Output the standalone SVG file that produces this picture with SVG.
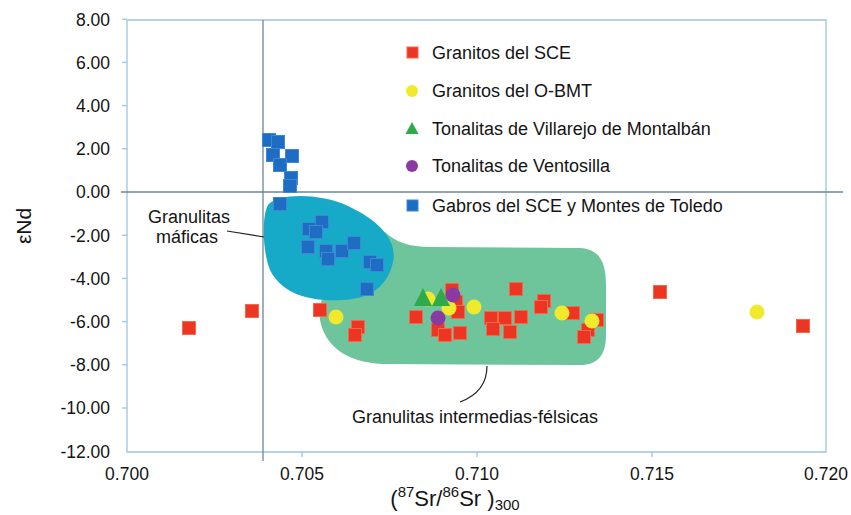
<svg xmlns="http://www.w3.org/2000/svg" width="851" height="515" viewBox="0 0 851 515">
<defs>
<style>
text{font-family:"Liberation Sans",Arial,sans-serif;fill:#141414}
.tk{font-size:17.5px}
.tx{font-size:17.5px;text-anchor:middle}
.ty{text-anchor:end}
.lg{font-size:18px}
.lb{font-size:18px}
.ax{stroke:#9cc5dd;stroke-width:1.3;fill:none}
.ref{stroke:#6a8797;stroke-width:1.3;fill:none}
.r{fill:#ec3522;stroke:#f5684a;stroke-width:1}
.b{fill:#1f6dc2;stroke:#3d88d4;stroke-width:1}
.y{fill:#f1e92c}
.p{fill:#8b3aa3}
.g{fill:#2eaa4a}
.lead{stroke:#222;stroke-width:1.2;fill:none}
</style>
<rect id="sq" x="-6.5" y="-6.5" width="13" height="13"/>
<path id="tri" d="M0,-10 L9,8 L-9,8 Z"/>
</defs>
<rect width="851" height="515" fill="#fff"/>

<g id="regions">
<path id="green-region" d="M335,285 L385,232 C395,242 410,247 430,247 L580,248 C598,249 606,260 606,285 L606,335 C606,355 598,365 580,365 L382,364 C346,362 325,346 320,320 C318,305 322,293 335,285 Z" fill="#6fc59b"/>
<path id="cyan-region" d="M268,205 C278,193 320,193 348,206 C378,220 398,240 393,262 C388,285 372,299 342,300 C306,302 281,292 270,270 C262,250 262,215 268,205 Z" fill="#16a9c8"/>
</g>

<g id="axes">
<polyline class="ax" points="127,20 826,20 826,452 127,452 127,20"/>
<g class="ax">
<line x1="122" y1="19.2" x2="127" y2="19.2"/><line x1="122" y1="62.4" x2="127" y2="62.4"/>
<line x1="122" y1="105.6" x2="127" y2="105.6"/><line x1="122" y1="148.8" x2="127" y2="148.8"/>
<line x1="122" y1="235.2" x2="127" y2="235.2"/><line x1="122" y1="278.4" x2="127" y2="278.4"/>
<line x1="122" y1="321.6" x2="127" y2="321.6"/><line x1="122" y1="364.8" x2="127" y2="364.8"/>
<line x1="122" y1="408" x2="127" y2="408"/>
<line x1="302" y1="452" x2="302" y2="457"/><line x1="477" y1="452" x2="477" y2="457"/>
<line x1="652" y1="452" x2="652" y2="457"/>
</g>
<line class="ref" x1="263" y1="20" x2="263" y2="461"/>
<line class="ref" x1="121" y1="192" x2="843" y2="192"/>
<g class="tk ty">
<text x="110" y="25.5">8.00</text><text x="110" y="68.7">6.00</text>
<text x="110" y="111.9">4.00</text><text x="110" y="155.1">2.00</text>
<text x="110" y="198.3">0.00</text><text x="110" y="241.5">-2.00</text>
<text x="110" y="284.7">-4.00</text><text x="110" y="327.9">-6.00</text>
<text x="110" y="371.1">-8.00</text><text x="110" y="414.3">-10.00</text>
<text x="110" y="457.5">-12.00</text>
</g>
<g class="tx">
<text x="127" y="480">0.700</text><text x="302" y="480">0.705</text>
<text x="477" y="480">0.710</text><text x="652" y="480">0.715</text>
<text x="826" y="480">0.720</text>
</g>
<text x="455" y="506" text-anchor="middle" style="font-size:22px">(<tspan style="font-size:15px" dy="-9">87</tspan><tspan dy="9">Sr/</tspan><tspan style="font-size:15px" dy="-9">86</tspan><tspan dy="9">Sr )</tspan><tspan style="font-size:15px" dy="4">300</tspan></text>
<text transform="translate(31,226) rotate(-90)" text-anchor="middle" style="font-size:21px">εNd</text>
</g>

<g id="connectors">
<line class="lead" x1="227" y1="231" x2="264" y2="237"/>
<path class="lead" d="M487,366 C487,385 476,396 460,402"/>
</g>

<g id="label-maficas">
<text class="lb" x="189" y="223" text-anchor="middle">Granulitas</text>
<text class="lb" x="187" y="243" text-anchor="middle">máficas</text>
</g>
<g id="label-felsicas">
<text class="lb" x="352" y="423">Granulitas intermedias-félsicas</text>
</g>

<g id="gabros">
<use href="#sq" class="b" x="269" y="140"/><use href="#sq" class="b" x="278" y="142"/>
<use href="#sq" class="b" x="273" y="155"/><use href="#sq" class="b" x="292" y="156"/>
<use href="#sq" class="b" x="280" y="165"/><use href="#sq" class="b" x="291" y="178"/>
<use href="#sq" class="b" x="290" y="186"/><use href="#sq" class="b" x="280" y="204"/>
<use href="#sq" class="b" x="322" y="222"/><use href="#sq" class="b" x="309" y="229"/>
<use href="#sq" class="b" x="316" y="232"/><use href="#sq" class="b" x="308" y="247"/>
<use href="#sq" class="b" x="326" y="251"/><use href="#sq" class="b" x="328" y="259"/>
<use href="#sq" class="b" x="342" y="251"/><use href="#sq" class="b" x="354" y="243"/>
<use href="#sq" class="b" x="370" y="262"/><use href="#sq" class="b" x="377" y="265"/>
<use href="#sq" class="b" x="367" y="289"/>
</g>

<g id="granitos-sce">
<use href="#sq" class="r" x="189" y="328"/><use href="#sq" class="r" x="252" y="311"/>
<use href="#sq" class="r" x="320" y="310"/><use href="#sq" class="r" x="358" y="327"/>
<use href="#sq" class="r" x="355" y="335"/><use href="#sq" class="r" x="416" y="317"/>
<use href="#sq" class="r" x="452" y="290"/><use href="#sq" class="r" x="456" y="302"/>
<use href="#sq" class="r" x="458" y="312"/><use href="#sq" class="r" x="438" y="330"/>
<use href="#sq" class="r" x="445" y="335"/><use href="#sq" class="r" x="460" y="333"/>
<use href="#sq" class="r" x="491" y="318"/><use href="#sq" class="r" x="505" y="318"/>
<use href="#sq" class="r" x="521" y="317"/><use href="#sq" class="r" x="493" y="329"/>
<use href="#sq" class="r" x="510" y="332"/><use href="#sq" class="r" x="516" y="289"/>
<use href="#sq" class="r" x="544" y="301"/><use href="#sq" class="r" x="541" y="307"/>
<use href="#sq" class="r" x="573" y="313"/><use href="#sq" class="r" x="597" y="320"/>
<use href="#sq" class="r" x="588" y="330"/><use href="#sq" class="r" x="584" y="337"/>
<use href="#sq" class="r" x="660" y="292"/><use href="#sq" class="r" x="803" y="326"/>
</g>

<g id="granitos-obmt">
<circle class="y" cx="336" cy="317" r="7.5"/><circle class="y" cx="428" cy="299" r="7.5"/>
<circle class="y" cx="449" cy="308" r="7.5"/><circle class="y" cx="474" cy="307" r="7.5"/>
<circle class="y" cx="562" cy="313" r="7.5"/><circle class="y" cx="592" cy="321" r="7.5"/>
<circle class="y" cx="757" cy="312" r="7.5"/>
</g>

<g id="tonalitas-villarejo">
<use href="#tri" class="g" x="423" y="298"/><use href="#tri" class="g" x="441" y="298"/>
</g>

<g id="tonalitas-ventosilla">
<circle class="p" cx="453" cy="295" r="7.5"/><circle class="p" cx="438" cy="318" r="7.5"/>
</g>

<g id="legend">
<rect class="r" x="407" y="47" width="11" height="11" stroke-width="0"/>
<text class="lg" x="432" y="59">Granitos del SCE</text>
<circle class="y" cx="412" cy="91" r="6"/>
<text class="lg" x="432" y="97">Granitos del O-BMT</text>
<path class="g" d="M412,122 L418.5,134 L405.5,134 Z"/>
<text class="lg" x="432" y="135">Tonalitas de Villarejo de Montalbán</text>
<circle class="p" cx="412" cy="166" r="6"/>
<text class="lg" x="432" y="172">Tonalitas de Ventosilla</text>
<rect class="b" x="407" y="200" width="11" height="11" stroke-width="0"/>
<text class="lg" x="432" y="212">Gabros del SCE y Montes de Toledo</text>
</g>
</svg>
